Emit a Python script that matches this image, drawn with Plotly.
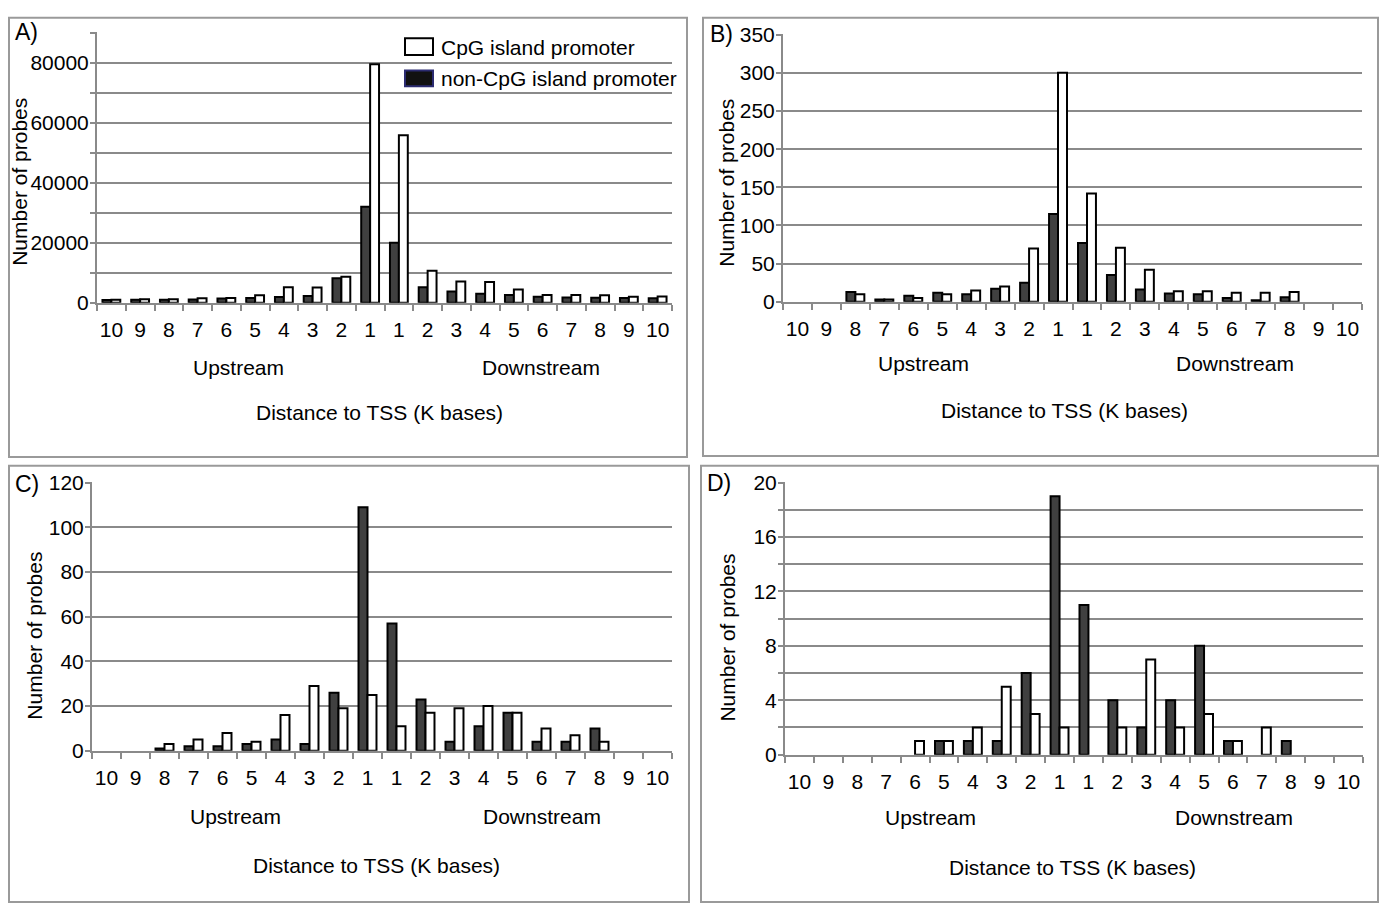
import plotly.graph_objects as go

W, H = 1382, 916

# ---------------- data ----------------
categories = list(range(20))
tick_labels = ["10", "9", "8", "7", "6", "5", "4", "3", "2", "1",
               "1", "2", "3", "4", "5", "6", "7", "8", "9", "10"]

name_cpg = "CpG island promoter"
name_non = "non-CpG island promoter"

a_non = [900, 1000, 1000, 1100, 1400, 1600, 1900, 2300, 8200, 32000,
         20000, 5200, 3800, 3000, 2600, 2000, 1800, 1700, 1600, 1500]
a_cpg = [1000, 1200, 1200, 1500, 1600, 2500, 5200, 5100, 8700, 79500,
         55800, 10700, 7100, 6900, 4400, 2600, 2600, 2500, 2000, 2100]

b_non = [None, None, 13, 3, 8, 12, 10, 17, 25, 115,
         77, 35, 16, 11, 10, 5, 2, 6, None, None]
b_cpg = [None, None, 10, 3, 5, 10, 15, 20, 70, 300,
         142, 71, 42, 14, 14, 12, 12, 13, None, None]

c_non = [None, None, 1, 2, 2, 3, 5, 3, 26, 109,
         57, 23, 4, 11, 17, 4, 4, 10, None, None]
c_cpg = [None, None, 3, 5, 8, 4, 16, 29, 19, 25,
         11, 17, 19, 20, 17, 10, 7, 4, None, None]

d_non = [None, None, None, None, None, 1, 1, 1, 6, 19,
         11, 4, 2, 4, 8, 1, None, 1, None, None]
d_cpg = [None, None, None, None, 1, 1, 2, 5, 3, 2,
         None, 2, 7, 2, 3, 1, 2, None, None, None]

# ---------------- helpers ----------------
def px(x):
    return x / W

def py(y):
    return 1 - y / H

FONT = "Liberation Sans, Arial, sans-serif"
FS = 21
GRID = "#8a8a8a"
DARK = "#404040"

panels = [
    dict(non=a_non, cpg=a_cpg, x=(97, 672), y=(22, 299), ymax=90000, major=20000, minor=10000,
         label="A)", lab_xy=(13, 22), ytitle_xy=(20, 175), up=(238, 365), down=(541, 365), dist=(379, 411)),
    dict(non=b_non, cpg=b_cpg, x=(783, 1362), y=(24, 298), ymax=350, major=50, minor=50,
         label="B)", lab_xy=(708, 24), ytitle_xy=(727, 176), up=(924, 361), down=(1235, 361), dist=(1064, 409)),
    dict(non=c_non, cpg=c_cpg, x=(92, 672), y=(483, 758), ymax=120, major=20, minor=20,
         label="C)", lab_xy=(13, 485), ytitle_xy=(35, 640), up=(235, 825), down=(542, 825), dist=(376, 876)),
    dict(non=d_non, cpg=d_cpg, x=(785, 1363), y=(483, 762), ymax=20, major=4, minor=2,
         label="D)", lab_xy=(705, 484), ytitle_xy=(728, 642), up=(930, 826), down=(1234, 826), dist=(1072, 878)),
]

borders = [(9, 7, 687, 457), (703, 7, 1378, 456), (9, 466, 689, 913), (701, 466, 1378, 913)]

fig = go.Figure()
annotations = []
shapes = []

for i, p in enumerate(panels):
    n = "" if i == 0 else str(i + 1)
    xa, ya = "x" + n, "y" + n
    fig.add_trace(go.Bar(x=categories, y=p["non"], name=name_non, xaxis=xa, yaxis=ya,
                         marker=dict(color=DARK, line=dict(color="black", width=2)),
                         showlegend=False))
    fig.add_trace(go.Bar(x=categories, y=p["cpg"], name=name_cpg, xaxis=xa, yaxis=ya,
                         marker=dict(color="white", line=dict(color="black", width=2)),
                         showlegend=False))
    fig.layout["xaxis" + n] = dict(
        domain=[px(p["x"][0]), px(p["x"][1])], anchor=ya, range=[-0.5, 19.5],
        tickmode="array", tickvals=categories, ticktext=tick_labels, ticks="",
        ticklabelstandoff=7,
        tickfont=dict(family=FONT, size=FS, color="black"),
        showline=True, linecolor=GRID, linewidth=2, showgrid=False, zeroline=False,
        minor=dict(ticks="outside", ticklen=6, tickwidth=1.5, tickcolor=GRID,
                   tickmode="linear", tick0=-0.5, dtick=1, showgrid=False),
        fixedrange=True,
    )
    fig.layout["yaxis" + n] = dict(
        domain=[py(p["y"][1]), py(p["y"][0])], anchor=xa, range=[0, p["ymax"] * 1.0008],
        tickmode="linear", tick0=0, dtick=p["major"], tickformat="d",
        ticks="outside", ticklen=5, tickwidth=1.5, tickcolor=GRID,
        ticklabelstandoff=-3,
        tickfont=dict(family=FONT, size=FS, color="black"),
        showline=True, linecolor=GRID, linewidth=2,
        showgrid=True, gridcolor=GRID, gridwidth=2, zeroline=False,
        minor=dict(tickmode="linear", tick0=0, dtick=p["minor"], showgrid=True,
                   gridcolor=GRID, gridwidth=2, ticks="outside", ticklen=5,
                   tickcolor=GRID, tickwidth=1.5),
        fixedrange=True,
    )
    annotations.append(dict(text=p["label"], x=px(p["lab_xy"][0]), y=py(p["lab_xy"][1]),
                            xref="paper", yref="paper", xanchor="left", yanchor="middle",
                            showarrow=False, font=dict(family=FONT, size=23, color="black")))
    annotations.append(dict(text="Number of probes", x=px(p["ytitle_xy"][0]), y=py(p["ytitle_xy"][1]),
                            xref="paper", yref="paper", xanchor="center", yanchor="middle",
                            textangle=-90, showarrow=False,
                            font=dict(family=FONT, size=FS, color="black")))
    for key, txt in (("up", "Upstream"), ("down", "Downstream"), ("dist", "Distance to TSS (K bases)")):
        annotations.append(dict(text=txt, x=px(p[key][0]), y=py(p[key][1]),
                                xref="paper", yref="paper", xanchor="center", yanchor="middle",
                                showarrow=False, font=dict(family=FONT, size=FS, color="black")))

for (x0, y0, x1, y1) in borders:
    shapes.append(dict(type="rect", xref="paper", yref="paper",
                       x0=px(x0), x1=px(x1), y0=py(y1), y1=py(y0),
                       line=dict(color="#9a9a9a", width=2), fillcolor="rgba(0,0,0,0)", layer="above"))

# legend (panel A)
shapes.append(dict(type="rect", xref="paper", yref="paper", x0=px(405), x1=px(433), y0=py(45), y1=py(28),
                   line=dict(color="black", width=2), fillcolor="white"))
shapes.append(dict(type="rect", xref="paper", yref="paper", x0=px(405), x1=px(433), y0=py(77), y1=py(61),
                   line=dict(color="#2b2b70", width=2), fillcolor="#111111"))
annotations.append(dict(text=name_cpg, x=px(439), y=py(37), xref="paper", yref="paper",
                        xanchor="left", yanchor="middle", showarrow=False,
                        font=dict(family=FONT, size=FS, color="black")))
annotations.append(dict(text=name_non, x=px(439), y=py(69), xref="paper", yref="paper",
                        xanchor="left", yanchor="middle", showarrow=False,
                        font=dict(family=FONT, size=FS, color="black")))

fig.update_layout(
    width=W, height=H, margin=dict(l=0, r=0, t=0, b=0),
    paper_bgcolor="white", plot_bgcolor="white",
    barmode="group", bargap=0.38, bargroupgap=0,
    showlegend=False, annotations=annotations, shapes=shapes,
    font=dict(family=FONT, size=FS, color="black"),
)

fig.write_html("out.html")
